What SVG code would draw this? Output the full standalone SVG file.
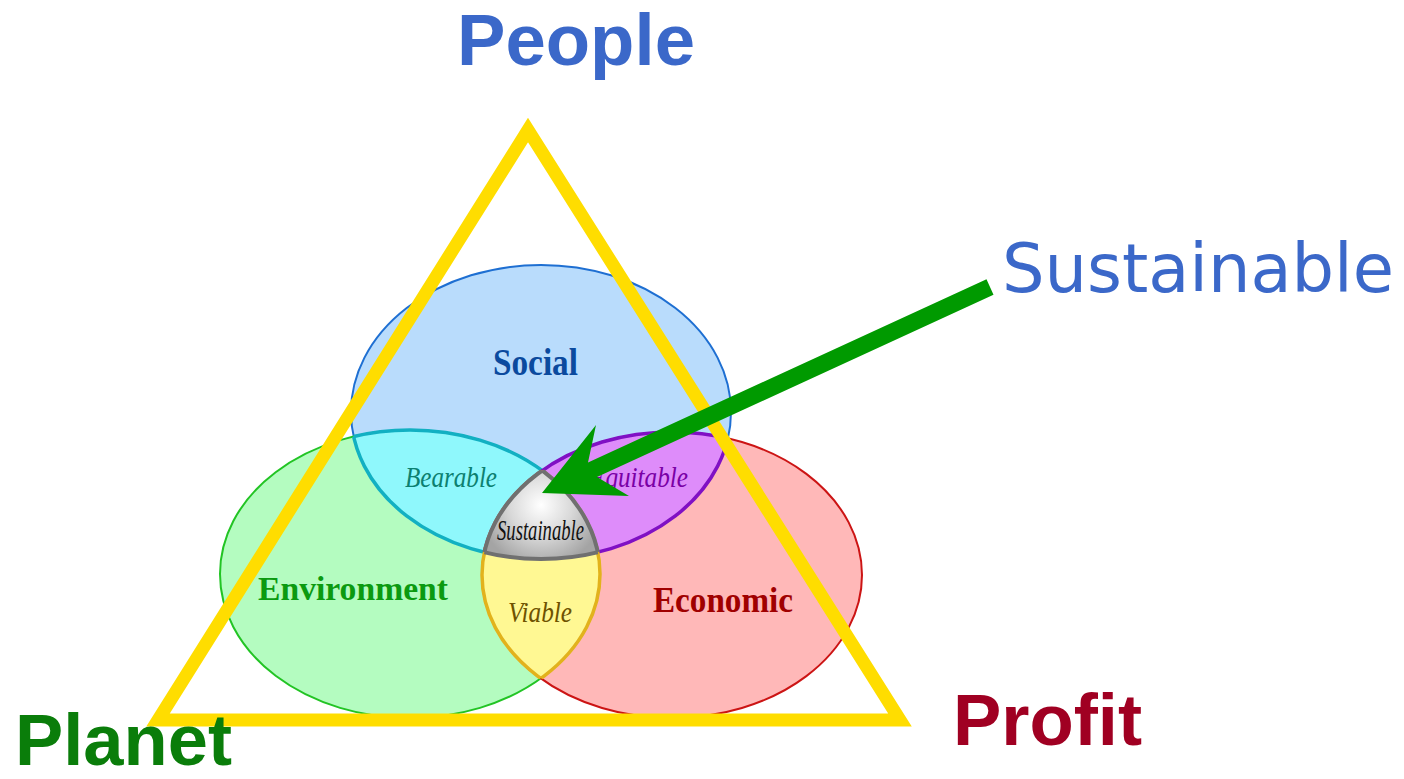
<svg xmlns="http://www.w3.org/2000/svg" width="1404" height="779" viewBox="0 0 1404 779">
  <style>
    .big { font-family: "Liberation Sans", Arial, sans-serif; font-weight: bold; font-size: 72px; }
    .area { font-family: "Liberation Serif", "Times New Roman", serif; font-weight: bold; }
    .lens { font-family: "Liberation Serif", "Times New Roman", serif; font-style: italic; font-size: 29px; }
  </style>
  <defs>
    <clipPath id="cSoc"><ellipse cx="541" cy="412" rx="190" ry="147"/></clipPath>
    <clipPath id="cEnv"><ellipse cx="410" cy="574" rx="190" ry="144"/></clipPath>
    <clipPath id="cEco"><ellipse cx="672" cy="575" rx="190" ry="143"/></clipPath>
    <radialGradient id="gCore" gradientUnits="userSpaceOnUse" cx="541" cy="505" r="62">
      <stop offset="0" stop-color="#ffffff"/>
      <stop offset="0.5" stop-color="#d9d9d9"/>
      <stop offset="1" stop-color="#a4a4a4"/>
    </radialGradient>
  </defs>

  <!-- three sustainability spheres -->
  <g id="social">
    <ellipse cx="541" cy="412" rx="190" ry="147" fill="#b9dcfc" stroke="#1e6fd2" stroke-width="2"/>
  </g>
  <g id="environment">
    <ellipse cx="410" cy="574" rx="190" ry="144" fill="#b4fcc0" stroke="#22c424" stroke-width="2"/>
  </g>
  <g id="economic">
    <ellipse cx="672" cy="575" rx="190" ry="143" fill="#ffb8b8" stroke="#cc1414" stroke-width="2"/>
  </g>

  <!-- pairwise overlaps -->
  <g id="bearable">
    <g clip-path="url(#cSoc)">
      <ellipse cx="410" cy="574" rx="190" ry="144" fill="#8ff8fc" stroke="#12b0c2" stroke-width="3.5"/>
    </g>
    <g clip-path="url(#cEnv)">
      <ellipse cx="541" cy="412" rx="190" ry="147" fill="none" stroke="#12b0c2" stroke-width="3.5"/>
    </g>
  </g>
  <g id="equitable">
    <g clip-path="url(#cSoc)">
      <ellipse cx="672" cy="575" rx="190" ry="143" fill="#de8cfa" stroke="#8010c4" stroke-width="3.5"/>
    </g>
    <g clip-path="url(#cEco)">
      <ellipse cx="541" cy="412" rx="190" ry="147" fill="none" stroke="#8010c4" stroke-width="3.5"/>
    </g>
  </g>
  <g id="viable">
    <g clip-path="url(#cEnv)">
      <ellipse cx="672" cy="575" rx="190" ry="143" fill="#fff893" stroke="#e2b21c" stroke-width="3.5"/>
    </g>
    <g clip-path="url(#cEco)">
      <ellipse cx="410" cy="574" rx="190" ry="144" fill="none" stroke="#e2b21c" stroke-width="3.5"/>
    </g>
  </g>

  <!-- triple overlap -->
  <g id="core">
    <g clip-path="url(#cSoc)"><g clip-path="url(#cEnv)">
      <ellipse cx="672" cy="575" rx="190" ry="143" fill="url(#gCore)" stroke="#707070" stroke-width="4"/>
    </g></g>
    <g clip-path="url(#cSoc)"><g clip-path="url(#cEco)">
      <ellipse cx="410" cy="574" rx="190" ry="144" fill="none" stroke="#707070" stroke-width="4"/>
    </g></g>
    <g clip-path="url(#cEnv)"><g clip-path="url(#cEco)">
      <ellipse cx="541" cy="412" rx="190" ry="147" fill="none" stroke="#707070" stroke-width="4"/>
    </g></g>
  </g>

  <!-- region labels -->
  <g id="labels">
    <text class="area" x="493" y="375" font-size="38" fill="#0b4a9e" textLength="85" lengthAdjust="spacingAndGlyphs">Social</text>
    <text class="area" x="258" y="600" font-size="34" fill="#0b9a10" textLength="190" lengthAdjust="spacingAndGlyphs">Environment</text>
    <text class="area" x="653" y="612" font-size="36" fill="#a00000" textLength="140" lengthAdjust="spacingAndGlyphs">Economic</text>
    <text class="lens" x="405" y="487" fill="#0c8070" textLength="92" lengthAdjust="spacingAndGlyphs">Bearable</text>
    <text class="lens" x="590" y="487" fill="#7a00a6" textLength="98" lengthAdjust="spacingAndGlyphs">Equitable</text>
    <text class="lens" x="508" y="622" fill="#6e5200" textLength="64" lengthAdjust="spacingAndGlyphs">Viable</text>
    <text class="lens" x="497" y="540" font-size="26" fill="#111111" textLength="87" lengthAdjust="spacingAndGlyphs">Sustainable</text>
  </g>

  <!-- yellow triangle frame -->
  <g id="triangle">
    <polygon points="528,130 158,720 900,720" fill="none" stroke="#ffdd00" stroke-width="13" stroke-linejoin="miter"/>
  </g>

  <!-- connectors -->
  <g id="connectors">
    <polygon points="542,493 596,425 588,462.5 986.5,279.3 993.5,294.7 597,477 629,496" fill="#009a00"/>
  </g>

  <!-- corner titles -->
  <g id="people"><text class="big" x="457" y="65" fill="#3b68c9" textLength="238" lengthAdjust="spacingAndGlyphs">People</text></g>
  <g id="planet"><text class="big" x="15" y="765" font-size="68" fill="#0a7d0a" textLength="217" lengthAdjust="spacingAndGlyphs">Planet</text></g>
  <g id="profit"><text class="big" x="953" y="745" fill="#a00022" textLength="189" lengthAdjust="spacingAndGlyphs">Profit</text></g>
  <g id="sustainable-tag"><text x="1002" y="292" font-family="'DejaVu Sans', 'Noto Sans', sans-serif" font-size="67" fill="#3b68c9" textLength="392" lengthAdjust="spacingAndGlyphs">Sustainable</text></g>
</svg>
